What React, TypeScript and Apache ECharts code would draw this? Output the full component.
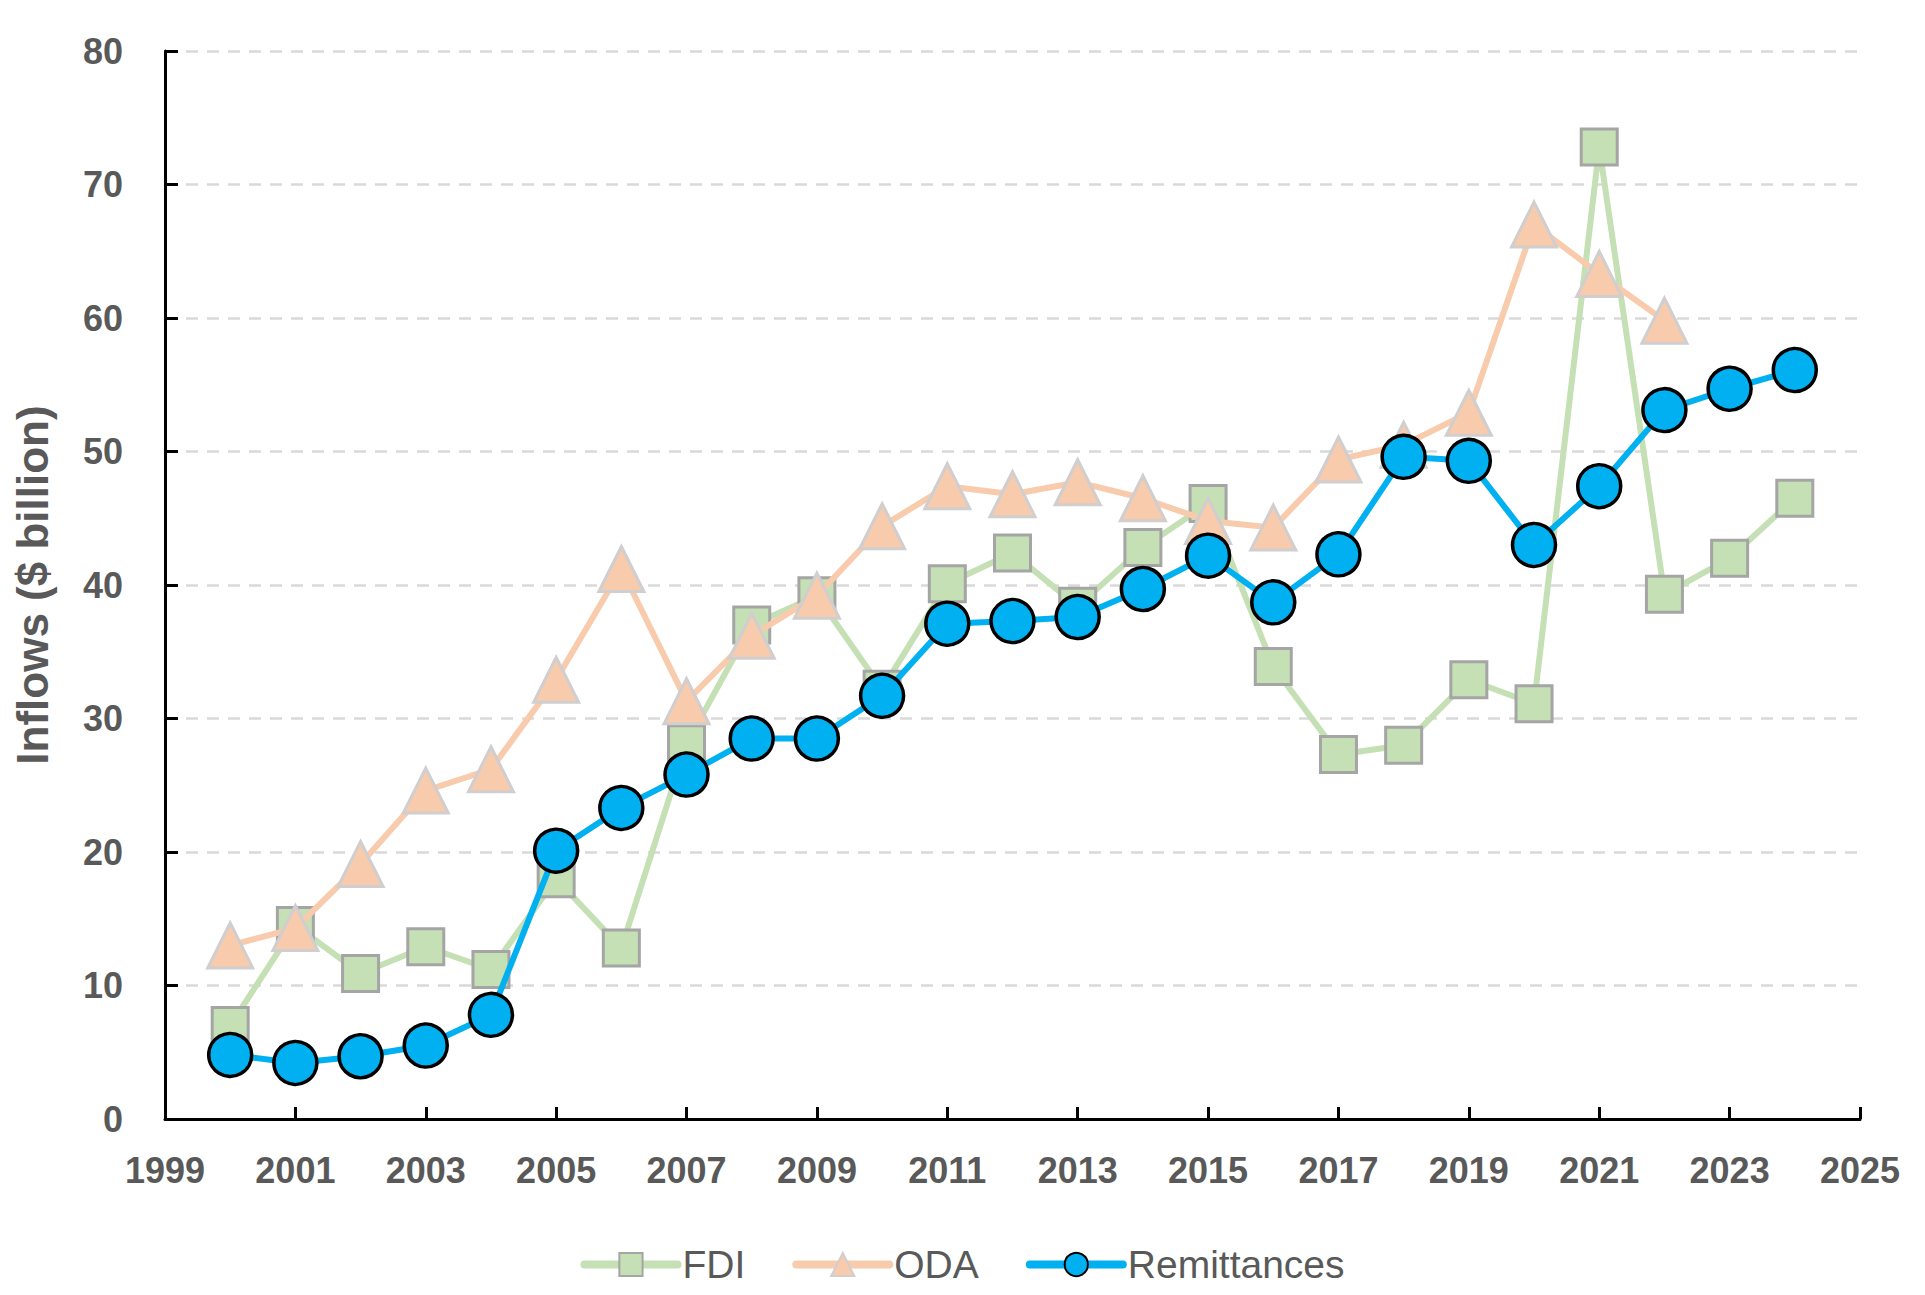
import React, { useEffect, useRef } from "react";
import * as echarts from "echarts";

const BASE_YEAR = 1999;
const years = [2000, 2001, 2002, 2003, 2004, 2005, 2006, 2007, 2008, 2009, 2010, 2011, 2012, 2013, 2014, 2015, 2016, 2017, 2018, 2019, 2020, 2021, 2022, 2023, 2024];
const fdi = [7.0, 14.5, 10.9, 12.9, 11.2, 18.0, 12.8, 28.1, 37.0, 39.2, 32.2, 40.1, 42.4, 38.4, 42.8, 46.1, 33.9, 27.3, 28.0, 32.9, 31.1, 72.8, 39.3, 42.0, 46.5];
const odaYears = [2000, 2001, 2002, 2003, 2004, 2005, 2006, 2007, 2008, 2009, 2010, 2011, 2012, 2013, 2014, 2015, 2016, 2017, 2018, 2019, 2020, 2021, 2022];
const oda = [13.0, 14.3, 19.1, 24.6, 26.2, 32.9, 41.2, 31.3, 36.2, 39.2, 44.4, 47.4, 46.8, 47.7, 46.5, 44.8, 44.3, 49.4, 50.5, 52.9, 67.0, 63.3, 59.8];
const remittances = [4.8, 4.2, 4.7, 5.5, 7.8, 20.1, 23.3, 25.8, 28.5, 28.5, 31.7, 37.1, 37.3, 37.6, 39.7, 42.2, 38.7, 42.3, 49.6, 49.3, 43.0, 47.4, 53.1, 54.7, 56.1];
const seriesNames = ["FDI", "ODA", "Remittances"];
const yAxisTitle = "Inflows ($ billion)";

const FONT = "'Liberation Sans', Arial, sans-serif";
const GRAY = "#595959";

export default function App() {
  const ref = useRef<HTMLDivElement>(null);
  useEffect(() => {
    document.body.style.margin = "0";
    if (!ref.current) return;
    const chart = echarts.init(ref.current, undefined, { renderer: "svg" });
    const toPts = (xs: number[], vs: number[]) => xs.map((y, i) => [y - BASE_YEAR, vs[i]]);
    chart.setOption({
      animation: false,
      backgroundColor: "#ffffff",
      textStyle: { fontFamily: FONT },
      grid: { left: 165, right: 65, top: 51, bottom: 176, containLabel: false },
      legend: {
        data: seriesNames,
        left: "center",
        top: 1240,
        itemWidth: 93,
        itemHeight: 29,
        itemGap: 47,
        lineStyle: { width: 8, cap: "round" },
        textStyle: { fontSize: 39, color: GRAY, fontFamily: FONT, padding: [0, 0, 0, 0] },
      },
      xAxis: {
        type: "value",
        min: 0,
        max: 26,
        interval: 2,
        axisLine: { show: true, lineStyle: { color: "#000", width: 3 } },
        axisTick: { show: true, inside: true, length: 12, lineStyle: { color: "#000", width: 3 } },
        axisLabel: {
          formatter: (v: number) => String(v + BASE_YEAR),
          fontSize: 36,
          fontWeight: "bold",
          color: GRAY,
          margin: 33,
          fontFamily: FONT,
        },
        splitLine: { show: false },
      },
      yAxis: {
        type: "value",
        min: 0,
        max: 80,
        interval: 10,
        name: yAxisTitle,
        nameLocation: "middle",
        nameRotate: 90,
        nameGap: 111,
        nameTextStyle: { fontSize: 44, fontWeight: "bold", color: GRAY, fontFamily: FONT },
        axisLine: { show: true, lineStyle: { color: "#000", width: 3 } },
        axisTick: { show: true, inside: true, length: 13, lineStyle: { color: "#000", width: 3 } },
        axisLabel: { fontSize: 36, fontWeight: "bold", color: GRAY, margin: 42, fontFamily: FONT },
        splitLine: { show: true, lineStyle: { color: "#D9D9D9", width: 2.5, type: [12, 9] } },
      },
      series: [
        {
          name: seriesNames[0],
          type: "line",
          z: 2,
          data: toPts(years, fdi),
          symbol: "rect",
          symbolSize: 36,
          lineStyle: { color: "#C5E0B4", width: 6 },
          itemStyle: { color: "#C5E0B4", borderColor: "#A5A5A5", borderWidth: 3 },
          emphasis: { disabled: true },
        },
        {
          name: seriesNames[1],
          type: "line",
          z: 3,
          data: toPts(odaYears, oda),
          symbol: "triangle",
          symbolSize: 45,
          lineStyle: { color: "#F8CBAD", width: 6 },
          itemStyle: { color: "#F8CBAD", borderColor: "#D0CECE", borderWidth: 3 },
          emphasis: { disabled: true },
        },
        {
          name: seriesNames[2],
          type: "line",
          z: 4,
          data: toPts(years, remittances),
          symbol: "circle",
          symbolSize: 43,
          lineStyle: { color: "#00B0F0", width: 6 },
          itemStyle: { color: "#00B0F0", borderColor: "#000000", borderWidth: 3.5 },
          emphasis: { disabled: true },
        },
      ],
    });
    return () => chart.dispose();
  }, []);
  return <div ref={ref} style={{ width: 1925, height: 1295 }} />;
}
